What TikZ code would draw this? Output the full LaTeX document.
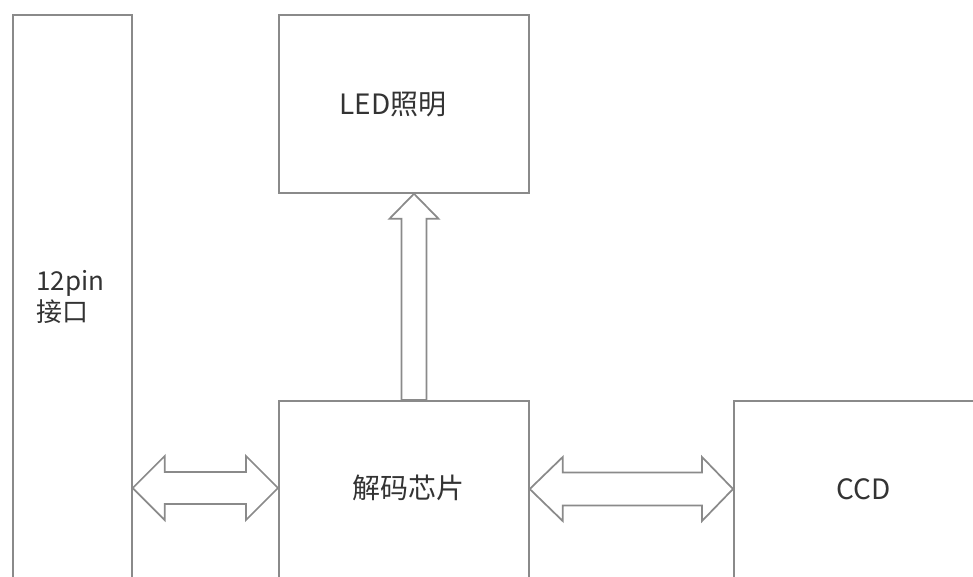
\documentclass[tikz,border=0pt]{standalone}
\usepackage{fontspec}
\setmainfont{Noto Sans CJK SC}
\usetikzlibrary{positioning, calc}
\definecolor{linegray}{HTML}{8A8A8A}
\definecolor{textgray}{HTML}{333333}

\begin{document}
\begin{tikzpicture}[x=0.75pt, y=-0.75pt,
  block/.style={draw=linegray, line width=1.3pt, anchor=north west, inner sep=0pt},
  bus/.style={draw=linegray, line width=1.3pt, line join=miter, fill=white},
  tag/.style={text=textgray, inner sep=0pt, font=\fontsize{21}{24}\selectfont}]
  \useasboundingbox (0,0) rectangle (973,576);
  \clip (0,0) rectangle (973,576);
  % blocks
  \node[block, minimum width=89.25pt, minimum height=424.5pt] (pin) at (12,14) {};
  \node[block, minimum width=187.5pt, minimum height=133.5pt] (led) at (278,14) {};
  \node[block, minimum width=187.5pt, minimum height=135pt] (dec) at (278,400) {};
  \node[block, minimum width=215pt, minimum height=135pt] (ccd) at (733,400) {};
  % labels
  \node[tag, align=left, anchor=west, font=\fontsize{19.5}{23}\selectfont] (pinlabel) at (36,297) {12pin\\接口};
  \node[tag] (ledlabel) at (393,105) {LED照明};
  \node[tag] (declabel) at (408,488) {解码芯片};
  \node[tag] (ccdlabel) at (864,489) {CCD};
  % ports
  \coordinate (lport) at (pin.east |- 0,488);
  \coordinate (dport) at (dec.west |- lport);
  \coordinate (rport) at (dec.east |- 0,489);
  \coordinate (cport) at (ccd.west |- rport);
  \coordinate (ltip) at (led.south -| 414,0);
  \coordinate (dtop) at (dec.north -| ltip);
  % buses
  \draw[bus] (lport) -- ++(32,-32) -- ++(0,16) -- ($(dport)+(-32,-16)$) -- ++(0,-16)
    -- (dport) -- ++(-32,32) -- ++(0,-16) -- ($(lport)+(32,16)$) -- ++(0,16) -- cycle;
  \draw[bus] (rport) -- ++(33,-32) -- ++(0,15.5) -- ($(cport)+(-31,-16.5)$) -- ++(0,-15.5)
    -- (cport) -- ++(-31,32) -- ++(0,-15.5) -- ($(rport)+(33,16.5)$) -- ++(0,15.5) -- cycle;
  \draw[bus] (ltip) -- ++(24.5,25) -- ++(-12,0) -- ($(dtop)+(12.5,0)$) -- ++(-25,0)
    -- ($(ltip)+(-12.5,25)$) -- ++(-12,0) -- cycle;
\end{tikzpicture}
\end{document}
